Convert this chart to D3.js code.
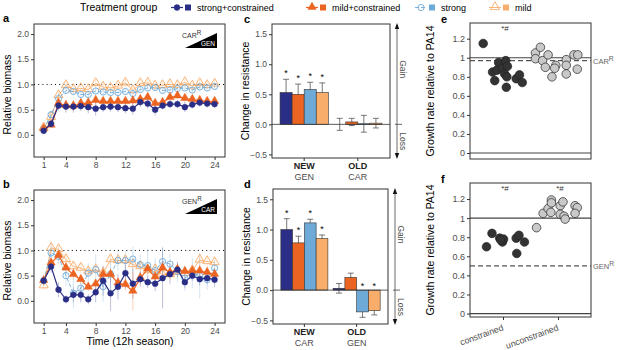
<!DOCTYPE html>
<html>
<head>
<meta charset="utf-8">
<script src="https://cdn.jsdelivr.net/npm/d3@7"></script>
<style>
body { margin: 0; background: #fff; }
text { font-family: "Liberation Sans", Arial, sans-serif; }
</style>
</head>
<body>
<svg id="fig" width="617" height="350"></svg>
<script>
// treatment groups

var groups = ["strong+constrained", "mild+constrained", "strong", "mild"];
var colors = ["#2b2e86", "#ec6421", "#6eaad8", "#f8ad6a"];

// panels a and b, relative biomass per season

var times = [1,2,3,4,5,6,7,8,9,10,11,12,13,14,15,16,17,18,19,20,21,22,23,24];
var timeTicks = [1,4,8,12,16,20,24];
var biomassTicks = [0, 0.5, 1, 1.5, 2];

var aStrongCon = [0.08,0.22,0.58,0.56,0.56,0.57,0.55,0.52,0.55,0.56,0.55,0.53,0.52,0.65,0.62,0.50,0.58,0.61,0.61,0.55,0.60,0.64,0.62,0.61];
var aMildCon   = [0.12,0.19,0.62,0.58,0.57,0.62,0.63,0.68,0.66,0.66,0.66,0.66,0.67,0.70,0.74,0.62,0.64,0.74,0.77,0.72,0.70,0.68,0.66,0.66];
var aStrong    = [0.12,0.40,0.72,0.88,0.86,0.80,0.80,0.87,0.85,0.84,0.84,0.86,0.82,0.90,0.93,0.94,0.88,0.89,0.92,0.93,0.89,0.95,0.93,0.96];
var aMild      = [0.14,0.35,0.78,0.98,0.90,0.92,0.90,1.02,0.95,0.93,0.97,1.03,0.88,1.02,1.03,0.97,0.98,1.00,0.98,1.04,0.97,1.02,0.98,1.01];

var aStrongConErr = [0.04,0.08,0.10,0.12,0.12,0.10,0.12,0.14,0.10,0.10,0.10,0.10,0.12,0.10,0.10,0.12,0.08,0.08,0.08,0.10,0.08,0.08,0.08,0.08];
var aMildConErr   = [0.04,0.06,0.08,0.10,0.10,0.08,0.08,0.08,0.08,0.08,0.08,0.08,0.08,0.08,0.08,0.08,0.08,0.06,0.06,0.08,0.06,0.06,0.06,0.06];
var aStrongErr    = [0.04,0.08,0.10,0.06,0.06,0.06,0.06,0.06,0.06,0.06,0.06,0.06,0.06,0.06,0.06,0.06,0.06,0.06,0.06,0.06,0.06,0.06,0.06,0.06];
var aMildErr      = [0.04,0.06,0.08,0.08,0.08,0.08,0.08,0.08,0.08,0.08,0.08,0.08,0.08,0.08,0.08,0.08,0.08,0.08,0.08,0.08,0.08,0.08,0.08,0.08];

var bStrongCon = [0.40,0.68,0.22,0.03,0.12,0.12,0.03,0.17,0.40,0.15,0.28,0.55,0.34,0.43,0.37,0.34,0.45,0.53,0.62,0.37,0.50,0.43,0.45,0.42];
var bMildCon   = [0.40,0.75,0.90,0.65,0.52,0.42,0.27,0.33,0.52,0.52,0.35,0.32,0.19,0.45,0.63,0.47,0.65,0.56,0.62,0.58,0.59,0.59,0.56,0.52];
var bStrong    = [0.40,0.95,0.88,0.50,0.15,0.25,0.55,0.62,0.28,0.53,0.80,0.80,0.83,0.72,0.70,0.60,0.78,0.73,0.58,0.45,0.55,0.50,0.42,0.65];
var bMild      = [0.30,1.05,1.02,0.82,0.68,0.65,0.58,0.62,0.55,0.82,0.80,0.80,0.72,0.68,0.60,0.62,0.52,0.52,0.58,0.55,0.60,0.81,0.78,0.76];

var bStrongConErr = [0.08,0.12,0.15,0.08,0.15,0.15,0.10,0.20,0.30,0.35,0.25,0.30,0.30,0.15,0.12,0.15,0.60,0.20,0.15,0.12,0.10,0.12,0.12,0.15];
var bMildConErr   = [0.06,0.10,0.10,0.10,0.10,0.10,0.08,0.10,0.15,0.15,0.12,0.12,0.38,0.12,0.10,0.10,0.12,0.10,0.10,0.08,0.08,0.08,0.08,0.10];
var bStrongErr    = [0.10,0.20,0.15,0.20,0.30,0.25,0.20,0.30,0.30,0.30,0.20,0.20,0.25,0.20,0.30,0.25,0.30,0.20,0.20,0.25,0.30,0.45,0.20,0.15];
var bMildErr      = [0.08,0.12,0.10,0.10,0.10,0.10,0.10,0.10,0.10,0.10,0.10,0.10,0.10,0.10,0.10,0.10,0.10,0.10,0.10,0.10,0.10,0.12,0.12,0.12];

// panels c and d, change in resistance

var barGroups = ["NEW", "OLD"];
var resistTicks = [-0.5, 0, 0.5, 1, 1.5];

var cSub = ["GEN", "CAR"];
var cNew = [0.53, 0.50, 0.58, 0.53];
var cNewErr = [0.22, 0.17, 0.12, 0.16];
var cOld = [0.00, 0.04, 0.01, 0.02];
var cOldErr = [0.10, 0.06, 0.14, 0.08];
var cNewStar = [1, 1, 1, 1];
var cOldStar = [0, 0, 0, 0];

var dSub = ["CAR", "GEN"];
var dNew = [1.00, 0.78, 1.11, 0.85];
var dNewErr = [0.18, 0.11, 0.06, 0.06];
var dOld = [0.03, 0.21, -0.36, -0.34];
var dOldErr = [0.08, 0.07, 0.09, 0.07];
var dNewStar = [1, 1, 1, 1];
var dOldStar = [0, 0, 1, 1];

// panels e and f, growth rate relative to PA14

var evoGroups = ["constrained", "unconstrained"];
var growthTicks = [0, 0.2, 0.4, 0.6, 0.8, 1, 1.2];

var eCon      = [1.15,0.95,0.97,0.85,0.87,0.89,0.91,0.83,0.80,0.76,0.69,0.78,0.82,0.74];
var eConJit   = [-0.36,-0.08,0.05,-0.19,-0.11,-0.01,0.08,0.03,0.07,-0.15,0.06,0.24,0.30,0.35];
var eUncon    = [1.05,0.99,1.11,0.97,1.03,0.90,0.80,0.92,0.89,0.98,0.92,0.83,1.03,1.03,0.88];
var eUnconJit = [-0.41,-0.41,-0.32,-0.28,-0.18,-0.23,-0.11,-0.04,-0.06,0.15,0.15,0.15,0.29,0.36,0.35];
var eRef = 0.97;
var eStar = [1, 0];

var fCon      = [0.70,0.84,0.79,0.75,0.78,0.79,0.82,0.63,0.75,0.77];
var fConJit   = [-0.30,-0.20,-0.06,-0.01,0.01,0.24,0.29,0.25,0.39,-0.04];
var fUncon    = [0.90,1.05,1.10,1.06,1.19,1.16,1.13,1.17,1.04,1.02,0.99,1.13,1.11,1.05];
var fUnconJit = [-0.39,-0.27,-0.18,-0.13,-0.12,-0.12,0.04,0.09,0.04,0.11,0.13,0.31,0.35,0.31];
var fRef = 0.5;
var fStar = [1, 1];

// setup

var svg = d3.select("#fig");
var tickGrey = "#4d4d4d";
var frameGrey = "#333";

function panelLabel(txt, x, y)
{
  svg.append("text").attr("x", x).attr("y", y)
    .attr("font-size", 11).attr("font-weight", "bold").text(txt);
}

function frame(x0, x1, y0, y1)
{
  svg.append("rect").attr("x", x0).attr("y", y0)
    .attr("width", x1 - x0).attr("height", y1 - y0)
    .attr("fill", "none").attr("stroke", frameGrey).attr("stroke-width", 1);
}

function styleAxis(g)
{
  g.select(".domain").remove();
  g.selectAll(".tick line").attr("stroke", frameGrey);
  g.selectAll(".tick text").attr("fill", tickGrey).attr("font-size", 8.5)
    .attr("font-family", "Liberation Sans, Arial, sans-serif");
}

function yTitle(txt, x, yMid)
{
  svg.append("text").attr("transform", "translate(" + x + "," + yMid + ") rotate(-90)")
    .attr("text-anchor", "middle").attr("font-size", 10.5).text(txt);
}

function supText(g, x, y, main, sup, size, color, anchor)
{
  var t = g.append("text").attr("x", x).attr("y", y).attr("font-size", size)
    .attr("fill", color).attr("text-anchor", anchor || "start");
  t.append("tspan").text(main);
  t.append("tspan").attr("dy", -size * 0.4).attr("font-size", size * 0.9).text(sup);
}

// marker drawing shared by the time panels and the legend

function marker(g, i, x, y)
{
  if (i == 0 || i == 2)
  {
    g.append("circle").attr("cx", x).attr("cy", y).attr("r", i == 0 ? 2.9 : 3.1)
      .attr("fill", i == 0 ? colors[i] : "none")
      .attr("stroke", colors[i]).attr("stroke-width", i == 0 ? 0.5 : 0.9);
  }
  else
  {
    g.append("path").attr("d", d3.symbol(d3.symbolTriangle, i == 1 ? 30 : 36)())
      .attr("transform", "translate(" + x + "," + (y - 0.5) + ")")
      .attr("fill", i == 1 ? colors[i] : "none")
      .attr("stroke", colors[i]).attr("stroke-width", i == 1 ? 0.5 : 0.9);
  }
}

function seriesLine(g, i)
{
  g.attr("fill", "none").attr("stroke", colors[i])
    .attr("stroke-width", i < 2 ? 1.2 : 0.9)
    .attr("stroke-dasharray", i == 2 ? "4,2" : null);
}

// legend

svg.append("text").attr("x", 80).attr("y", 11).attr("font-size", 10.5).text("Treatment group");

var legendX = [177, 312, 421, 495];
groups.forEach(function (name, i)
{
  var lg = svg.append("g");
  lg.append("line").attr("x1", legendX[i] - 6).attr("x2", legendX[i] + 6)
    .attr("y1", 7.5).attr("y2", 7.5).call(seriesLine, i);
  marker(lg, i, legendX[i], 7.5);
  lg.append("rect").attr("x", legendX[i] + 8).attr("y", 4.5).attr("width", 6).attr("height", 6)
    .attr("fill", colors[i]);
  lg.append("text").attr("x", legendX[i] + 20).attr("y", 11).attr("font-size", 9).text(name);
});

// panels a and b

function timePanel(top, bottom, series, errs, inset, label)
{
  var x = d3.scaleLinear().domain([-0.3, 25.4]).range([34, 225]);
  var y = d3.scaleLinear().domain([-0.44, 2.2]).range([bottom, top]);
  var g = svg.append("g");

  g.append("line").attr("x1", 34).attr("x2", 225).attr("y1", y(1)).attr("y2", y(1))
    .attr("stroke", "#000").attr("stroke-width", 1).attr("stroke-dasharray", "1,3.2");

  // error bars
  series.forEach(function (vals, i)
  {
    g.selectAll(null).data(vals).enter().append("line")
      .attr("x1", function (d, k) { return x(times[k]); })
      .attr("x2", function (d, k) { return x(times[k]); })
      .attr("y1", function (d, k) { return y(d - errs[i][k]); })
      .attr("y2", function (d, k) { return y(d + errs[i][k]); })
      .attr("stroke", colors[i]).attr("stroke-opacity", 0.3).attr("stroke-width", 1);
  });

  // lines and markers, light groups underneath
  [3, 2, 1, 0].forEach(function (i)
  {
    var line = d3.line().x(function (d, k) { return x(times[k]); }).y(function (d) { return y(d); });
    g.append("path").attr("d", line(series[i])).call(seriesLine, i);
    series[i].forEach(function (d, k) { marker(g, i, x(times[k]), y(d)); });
  });

  frame(34, 225, top, bottom);

  var ya = svg.append("g").attr("transform", "translate(34,0)")
    .call(d3.axisLeft(y).tickValues(biomassTicks).tickSize(3).tickPadding(2).tickFormat(d3.format(".1f")));
  styleAxis(ya);
  var xa = svg.append("g").attr("transform", "translate(0," + bottom + ")")
    .call(d3.axisBottom(x).tickValues(timeTicks).tickSize(3).tickPadding(2));
  styleAxis(xa);

  yTitle("Relative biomass", 11, (top + bottom) / 2 + 4);
  panelLabel(label, 3, top - 2);

  // resistance inset
  var tri = svg.append("g");
  tri.append("path").attr("d", "M185," + (top + 24) + "L217," + (top + 24) + "L217," + (top + 9) + "Z")
    .attr("fill", "#000");
  supText(tri, 182, top + 14, inset[0], "R", 7, "#333");
  tri.append("text").attr("x", 215).attr("y", top + 22).attr("text-anchor", "end")
    .attr("font-size", 6.5).attr("fill", "#fff").text(inset[1]);
}

timePanel(24, 157, [aStrongCon, aMildCon, aStrong, aMild],
  [aStrongConErr, aMildConErr, aStrongErr, aMildErr], ["CAR", "GEN"], "a");
timePanel(190, 323, [bStrongCon, bMildCon, bStrong, bMild],
  [bStrongConErr, bMildConErr, bStrongErr, bMildErr], ["GEN", "CAR"], "b");

svg.append("text").attr("x", 130).attr("y", 345).attr("text-anchor", "middle")
  .attr("font-size", 10.5).text("Time (12h season)");

// panels c and d

function barPanel(top, bottom, left, right, vals, errs, stars, sub, label)
{
  var x = d3.scaleBand().domain(barGroups).range([left, right]).paddingInner(0.1).paddingOuter(0.15);
  var xs = d3.scaleBand().domain(groups).range([0, x.bandwidth()]);
  var y = d3.scaleLinear().domain([-0.56, 1.67]).range([bottom, top]);
  var g = svg.append("g");

  barGroups.forEach(function (grp, j)
  {
    var gg = g.append("g").attr("transform", "translate(" + x(grp) + ",0)");
    var rows = vals[j].map(function (v, i)
    {
      return { v: v, e: errs[j][i], star: stars[j][i], cx: xs(groups[i]) + xs.bandwidth() / 2, i: i };
    });

    gg.selectAll(null).data(rows).enter().append("line")
      .attr("x1", function (d) { return d.cx; }).attr("x2", function (d) { return d.cx; })
      .attr("y1", function (d) { return y(d.v - d.e); })
      .attr("y2", function (d) { return y(d.v + d.e); })
      .attr("stroke", "#555").attr("stroke-width", 0.8);
    [-1, 1].forEach(function (s)
    {
      gg.selectAll(null).data(rows).enter().append("line")
        .attr("x1", function (d) { return d.cx - 3; })
        .attr("x2", function (d) { return d.cx + 3; })
        .attr("y1", function (d) { return y(d.v + s * d.e); })
        .attr("y2", function (d) { return y(d.v + s * d.e); })
        .attr("stroke", "#555").attr("stroke-width", 0.8);
    });

    gg.selectAll(null).data(rows).enter().append("rect")
      .attr("x", function (d) { return xs(groups[d.i]); })
      .attr("width", xs.bandwidth())
      .attr("y", function (d) { return y(Math.max(0, d.v)); })
      .attr("height", function (d) { return Math.abs(y(d.v) - y(0)); })
      .attr("fill", function (d) { return colors[d.i]; })
      .attr("stroke", "#333").attr("stroke-width", 0.6);

    gg.selectAll(null).data(rows.filter(function (d) { return d.star; })).enter()
      .append("text")
      .attr("x", function (d) { return d.cx; })
      .attr("y", function (d) { return d.v > 0 ? y(d.v + d.e) - 3 : y(0) - 1; })
      .attr("text-anchor", "middle").attr("font-size", 9).text("*");

    svg.append("text").attr("x", x(grp) + x.bandwidth() / 2).attr("y", bottom + 11)
      .attr("text-anchor", "middle").attr("font-size", 9).attr("font-weight", "bold")
      .attr("fill", "#222").text(grp);
    svg.append("text").attr("x", x(grp) + x.bandwidth() / 2).attr("y", bottom + 22)
      .attr("text-anchor", "middle").attr("font-size", 9).attr("fill", tickGrey).text(sub[j]);
  });

  g.append("line").attr("x1", left).attr("x2", right).attr("y1", y(0)).attr("y2", y(0))
    .attr("stroke", "#333").attr("stroke-width", 0.8);

  frame(left, right, top, bottom);

  var ya = svg.append("g").attr("transform", "translate(" + left + ",0)")
    .call(d3.axisLeft(y).tickValues(resistTicks).tickSize(3).tickPadding(2).tickFormat(d3.format(".1f")));
  styleAxis(ya);
  var xa = svg.append("g").attr("transform", "translate(0," + bottom + ")")
    .call(d3.axisBottom(x).tickSize(3).tickFormat(""));
  styleAxis(xa);

  yTitle("Change in resistance", left - 23, (top + bottom) / 2);
  panelLabel(label, 244, top - 1);

  // gain / loss arrow
  var ax = right + 7;
  var ar = svg.append("g").attr("stroke", "#444").attr("fill", "#111");
  ar.append("line").attr("x1", ax).attr("x2", ax).attr("y1", top + 3).attr("y2", bottom - 3)
    .attr("stroke-width", 0.8);
  ar.append("path").attr("d", "M" + (ax - 2.2) + "," + (top + 5) + "L" + (ax + 2.2) + "," + (top + 5) + "L" + ax + "," + (top - 1) + "Z")
    .attr("stroke", "none");
  ar.append("path").attr("d", "M" + (ax - 2.2) + "," + (bottom - 5) + "L" + (ax + 2.2) + "," + (bottom - 5) + "L" + ax + "," + (bottom + 1) + "Z")
    .attr("stroke", "none");
  ar.append("line").attr("x1", ax - 2).attr("x2", ax + 5).attr("y1", y(0)).attr("y2", y(0))
    .attr("stroke-width", 0.8);
  svg.append("text").attr("transform", "translate(" + (ax + 3) + "," + (top + (y(0) - top) * 0.45) + ") rotate(90)")
    .attr("text-anchor", "middle").attr("font-size", 8.5).attr("fill", tickGrey).text("Gain");
  svg.append("text").attr("transform", "translate(" + (ax + 3) + "," + ((y(0) + bottom) / 2) + ") rotate(90)")
    .attr("text-anchor", "middle").attr("font-size", 8.5).attr("fill", tickGrey).text("Loss");
}

barPanel(24, 158, 272, 390, [cNew, cOld], [cNewErr, cOldErr], [cNewStar, cOldStar], cSub, "c");
barPanel(189, 324, 273, 388, [dNew, dOld], [dNewErr, dOldErr], [dNewStar, dOldStar], dSub, "d");

// panels e and f

function dotPanel(top, bottom, yDomain, con, conJit, uncon, unconJit, ref, refName, stars, showX, label)
{
  var x = d3.scalePoint().domain(evoGroups).range([470, 591]).padding(0.6);
  var y = d3.scaleLinear().domain(yDomain).range([bottom, top]);
  var g = svg.append("g");

  [0, 1].forEach(function (v)
  {
    g.append("line").attr("x1", 470).attr("x2", 591).attr("y1", y(v)).attr("y2", y(v))
      .attr("stroke", "#444").attr("stroke-width", 1.2);
  });
  g.append("line").attr("x1", 470).attr("x2", 591).attr("y1", y(ref)).attr("y2", y(ref))
    .attr("stroke", "#555").attr("stroke-width", 1.3).attr("stroke-dasharray", "5,3");
  supText(svg, 593, y(ref) + 3, refName, "R", 7.5, "#666");

  [[con, conJit, "#333"], [uncon, unconJit, "#c9c9c9"]].forEach(function (s, j)
  {
    g.selectAll(null).data(s[0]).enter().append("circle")
      .attr("cx", function (d, k) { return x(evoGroups[j]) + s[1][k] * x.step(); })
      .attr("cy", function (d) { return y(d); })
      .attr("r", 4.3)
      .attr("fill", s[2]).attr("stroke", "#222").attr("stroke-width", 0.7);
  });

  evoGroups.forEach(function (grp, j)
  {
    if (stars[j])
      svg.append("text").attr("x", x(grp) + 2).attr("y", top + 8)
        .attr("text-anchor", "middle").attr("font-size", 8).attr("fill", "#333").text("*#");
  });

  frame(470, 591, top, bottom);

  var ya = svg.append("g").attr("transform", "translate(470,0)")
    .call(d3.axisLeft(y).tickValues(growthTicks).tickSize(3).tickPadding(2).tickFormat(d3.format("~g")));
  styleAxis(ya);
  ya.selectAll(".tick text").attr("font-size", 9);

  if (showX)
  {
    var xa = svg.append("g").attr("transform", "translate(0," + bottom + ")")
      .call(d3.axisBottom(x).tickSize(3).tickFormat(""));
    styleAxis(xa);
    evoGroups.forEach(function (grp)
    {
      svg.append("text")
        .attr("transform", "translate(" + (x(grp) + 1) + "," + (bottom + 13) + ") rotate(-20)")
        .attr("text-anchor", "end").attr("font-size", 8.8).attr("fill", tickGrey).text(grp);
    });
  }

  yTitle("Growth rate relative to PA14", 434, (top + bottom) / 2);
  panelLabel(label, 441, top - 0);
}

dotPanel(23, 159, [-0.063, 1.365], eCon, eConJit, eUncon, eUnconJit, eRef, "CAR", eStar, false, "e");
dotPanel(183, 317, [-0.036, 1.368], fCon, fConJit, fUncon, fUnconJit, fRef, "GEN", fStar, true, "f");
</script>
</body>
</html>
